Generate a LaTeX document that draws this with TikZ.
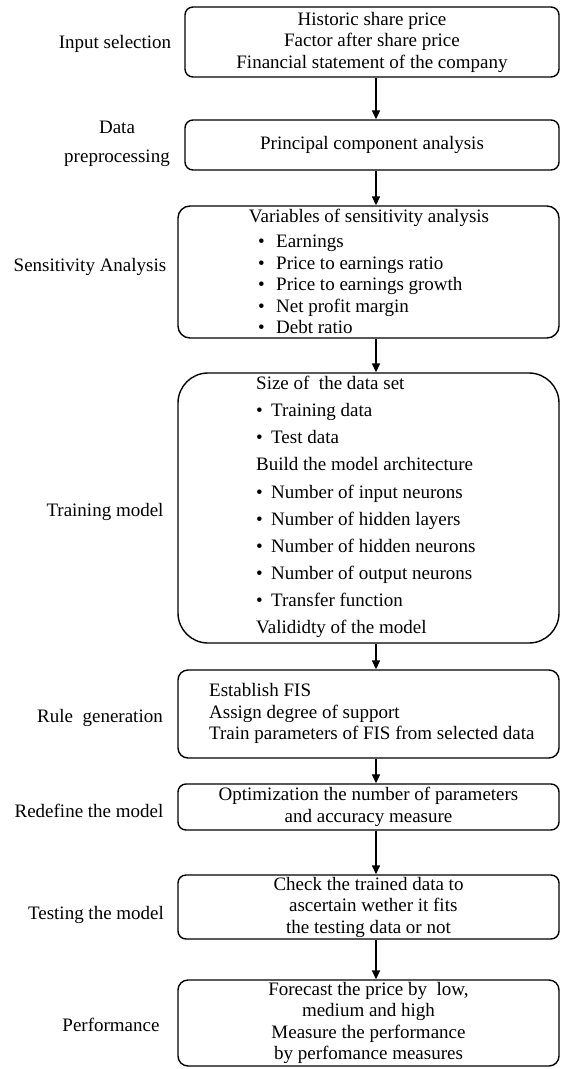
\documentclass[tikz,border=0pt]{standalone}
\usepackage{fontspec}
\setmainfont{Liberation Serif}
\usetikzlibrary{arrows.meta}
\tikzset{
  box/.style={draw, line width=1.4pt, inner sep=0pt},
  txt/.style={inner sep=0pt, font=\fontsize{19}{21.5}\selectfont},
  lbl/.style={inner sep=0pt, align=center, font=\fontsize{19}{29}\selectfont},
  arr/.style={line width=1.4pt, -{Triangle[length=9pt,width=8pt]}}
}
\newcommand{\bl}[1]{\makebox[18pt][l]{•}#1}
\newcommand{\bs}[1]{\makebox[15pt][l]{•}#1}
\begin{document}
\begin{tikzpicture}[x=1pt,y=-1pt]
\useasboundingbox (0,0) rectangle (561,1069);
\coordinate (ax) at (376,0);
% boxes
\node[box, txt, align=center, minimum width=374pt, minimum height=70pt, rounded corners=8pt] (b1) at (372,42)
  {Historic share price\\Factor after share price\\Financial statement of the company};
\node[box, txt, align=center, minimum width=374pt, minimum height=50pt, rounded corners=8pt] (b2) at (372,145)
  {Principal component analysis};
\node[box, minimum width=381pt, minimum height=132pt, rounded corners=12pt] (b3) at (368.5,272) {};
\node[box, minimum width=381pt, minimum height=270pt, rounded corners=30pt] (b4) at (368.5,508) {};
\node[box, minimum width=381pt, minimum height=88pt, rounded corners=10pt] (b5) at (368.5,714) {};
\node[box, txt, align=center, minimum width=381pt, minimum height=46pt, rounded corners=8pt] (b6) at (368.5,807)
  {Optimization the number of parameters\\and accuracy measure};
\node[box, txt, align=center, minimum width=381pt, minimum height=64pt, rounded corners=8pt] (b7) at (368.5,907)
  {Check the trained data to\\\ \ ascertain wether it fits\\the testing data or not};
\node[box, txt, align=center, minimum width=381pt, minimum height=86pt, rounded corners=10pt] (b8) at (368.5,1023)
  {Forecast the price by\ \ low,\\medium and high\\Measure the performance\\by perfomance measures};
% box contents
\node[txt, anchor=center] (t3h) at (369,218) {Variables of sensitivity analysis};
\node[txt, align=left, anchor=west] (t3b) at (258,284.5)
  {\bl{Earnings}\\\bl{Price to earnings ratio}\\\bl{Price to earnings growth}\\\bl{Net profit margin}\\\bl{Debt ratio}};
\node[txt, align=left, anchor=west, font=\fontsize{19}{27.1}\selectfont] (t4) at (256,507)
  {Size of\ \ the data set\\\bs{Training data}\\\bs{Test data}\\Build the model architecture\\\bs{Number of input neurons}\\\bs{Number of hidden layers}\\\bs{Number of hidden neurons}\\\bs{Number of output neurons}\\\bs{Transfer function}\\Valididty of the model};
\node[txt, align=left, anchor=west] (t5) at (209,713.5)
  {Establish FIS\\Assign degree of support\\Train parameters of FIS from selected data};
% left labels
\node[lbl] (l1) at (115,44) {Input selection};
\node[lbl] (l2) at (117,144) {Data\\preprocessing};
\node[lbl] (l3) at (90,267) {Sensitivity Analysis};
\node[lbl] (l4) at (105,512) {Training model};
\node[lbl] (l5) at (100,718) {Rule\ \ generation};
\node[lbl] (l6) at (89,811) {Redefine the model};
\node[lbl] (l7) at (96,915) {Testing the model};
\node[lbl] (l8) at (111,1025) {Performance};
% arrows
\draw[arr] (b1.south -| ax) -- (b2.north -| ax);
\draw[arr] (b2.south -| ax) -- (b3.north -| ax);
\draw[arr] (b3.south -| ax) -- (b4.north -| ax);
\draw[arr] (b4.south -| ax) -- (b5.north -| ax);
\draw[arr] (b5.south -| ax) -- (b6.north -| ax);
\draw[arr] (b6.south -| ax) -- (b7.north -| ax);
\draw[arr] (b7.south -| ax) -- (b8.north -| ax);
\end{tikzpicture}
\end{document}
